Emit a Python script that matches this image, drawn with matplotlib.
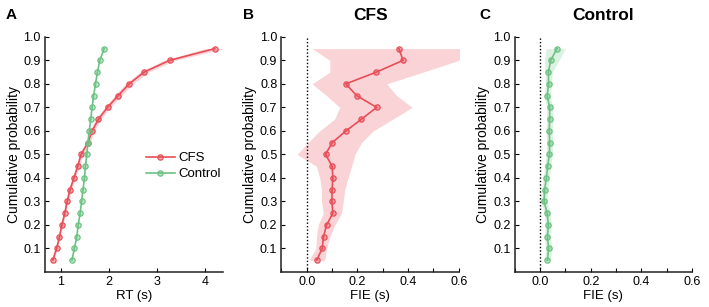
import matplotlib
matplotlib.use("Agg")
import matplotlib.pyplot as plt

plt.rcParams.update({"font.family": ["Liberation Sans", "DejaVu Sans"], "font.size": 8})

prob = [0.05, 0.10, 0.15, 0.20, 0.25, 0.30, 0.35, 0.40, 0.45, 0.50,
        0.55, 0.60, 0.65, 0.70, 0.75, 0.80, 0.85, 0.90, 0.95]

# panel A: RT quantiles (s)
rt_cfs = [0.83, 0.91, 0.97, 1.02, 1.08, 1.13, 1.19, 1.27, 1.35, 1.42,
          1.56, 1.65, 1.78, 1.97, 2.19, 2.42, 2.73, 3.26, 4.20]
rt_cfs_err = [0.02, 0.02, 0.02, 0.02, 0.02, 0.03, 0.03, 0.03, 0.03, 0.04,
              0.04, 0.05, 0.05, 0.06, 0.07, 0.08, 0.09, 0.12, 0.20]
rt_ctrl = [1.23, 1.28, 1.33, 1.36, 1.40, 1.43, 1.46, 1.49, 1.51, 1.54,
           1.56, 1.59, 1.62, 1.65, 1.68, 1.72, 1.76, 1.81, 1.90]

# panel B: FIE for CFS, with band
fie_cfs = [0.039, 0.061, 0.066, 0.078, 0.103, 0.099, 0.100, 0.103, 0.100, 0.074,
           0.100, 0.155, 0.216, 0.276, 0.197, 0.154, 0.275, 0.380, 0.364]
fie_cfs_lo = [0.009, 0.036, 0.038, 0.045, 0.065, 0.058, 0.058, 0.051, 0.038, -0.038,
              0.005, 0.051, 0.110, 0.130, 0.078, 0.021, 0.091, 0.091, 0.021]
fie_cfs_hi = [0.071, 0.078, 0.091, 0.111, 0.137, 0.144, 0.150, 0.163, 0.177, 0.190,
              0.216, 0.262, 0.340, 0.416, 0.355, 0.315, 0.460, 0.600, 0.620]

# panel C: FIE for control, with band
fie_ctrl = [0.029, 0.034, 0.029, 0.033, 0.028, 0.016, 0.018, 0.025, 0.030, 0.037,
            0.038, 0.036, 0.038, 0.038, 0.028, 0.034, 0.033, 0.042, 0.067]
fie_ctrl_lo = [0.017, 0.022, 0.017, 0.021, 0.016, 0.004, 0.006, 0.013, 0.018, 0.025,
               0.026, 0.024, 0.026, 0.026, 0.016, 0.022, 0.020, 0.018, 0.024]
fie_ctrl_hi = [0.041, 0.046, 0.041, 0.045, 0.040, 0.028, 0.030, 0.037, 0.042, 0.049,
               0.050, 0.048, 0.050, 0.050, 0.040, 0.046, 0.048, 0.075, 0.100]

red = "#E84E58"
green = "#6CC283"
red_fill = "#FAD3D6"
green_fill = "#DDF1E2"


def style_axes(ax):
    ax.spines["top"].set_visible(False)
    ax.spines["right"].set_visible(False)
    for s in ("left", "bottom"):
        ax.spines[s].set_linewidth(1.1)
        ax.spines[s].set_color("#222222")
    ax.tick_params(direction="in", length=3, width=0.8, labelsize=9, pad=3)
    ax.set_ylim(0, 1.0)
    ax.set_yticks([0.1, 0.2, 0.3, 0.4, 0.5, 0.6, 0.7, 0.8, 0.9, 1.0])
    ax.set_yticklabels(["0.1", "0.2", "0.3", "0.4", "0.5", "0.6", "0.7", "0.8", "0.9", "1.0"])
    ax.set_ylabel("Cumulative probability", fontsize=10, labelpad=2)


def plot_series(ax, x, color, label=None):
    ax.plot(x, prob, "-", color=color, lw=1.2, marker="o", markersize=3.8,
            markerfacecolor=color + "70", markeredgecolor=color, markeredgewidth=0.9,
            label=label)


fig = plt.figure(figsize=(7.09, 3.07), dpi=100)
axA = fig.add_axes([0.0635, 0.114, 0.251, 0.766])
axB = fig.add_axes([0.397, 0.114, 0.25, 0.766])
axC = fig.add_axes([0.726, 0.114, 0.25, 0.766])

# A
rt_lo = [v - e for v, e in zip(rt_cfs, rt_cfs_err)]
rt_hi = [v + e for v, e in zip(rt_cfs, rt_cfs_err)]
axA.fill_betweenx(prob, rt_lo, rt_hi, color=red_fill, lw=0)
plot_series(axA, rt_cfs, red, "CFS")
plot_series(axA, rt_ctrl, green, "Control")
style_axes(axA)
axA.set_xlim(0.67, 4.37)
axA.set_xticks([1, 2, 3, 4])
axA.set_xlabel("RT (s)", fontsize=9.5, labelpad=1)
axA.legend(loc="center left", bbox_to_anchor=(0.5, 0.45), frameon=False,
           fontsize=9.5, handlelength=2.2, handletextpad=0.3, labelspacing=0.3)

# B
axB.fill_betweenx(prob, fie_cfs_lo, fie_cfs_hi, color=red_fill, lw=0)
plot_series(axB, fie_cfs, red)
axB.set_title("CFS", fontsize=12.5, fontweight="bold", pad=12)

# C
axC.fill_betweenx(prob, fie_ctrl_lo, fie_ctrl_hi, color=green_fill, lw=0)
plot_series(axC, fie_ctrl, green)
axC.set_title("Control", fontsize=12.5, fontweight="bold", pad=12)

for ax in (axB, axC):
    ax.axvline(0, color="black", lw=1.0, ls=(0, (1, 1.5)))
    style_axes(ax)
    ax.set_xlim(-0.1, 0.6)
    ax.set_xticks([-0.1, 0.0, 0.1, 0.2, 0.3, 0.4, 0.5, 0.6])
    ax.set_xticklabels(["", "0.0", "", "0.2", "", "0.4", "", "0.6"])
    ax.set_xlabel("FIE (s)", fontsize=9.5, labelpad=1)

for x, letter in ((0.008, "A"), (0.343, "B"), (0.676, "C")):
    fig.text(x, 0.95, letter, fontsize=11, fontweight="bold", va="center")

fig.savefig("out.png", dpi=100)
